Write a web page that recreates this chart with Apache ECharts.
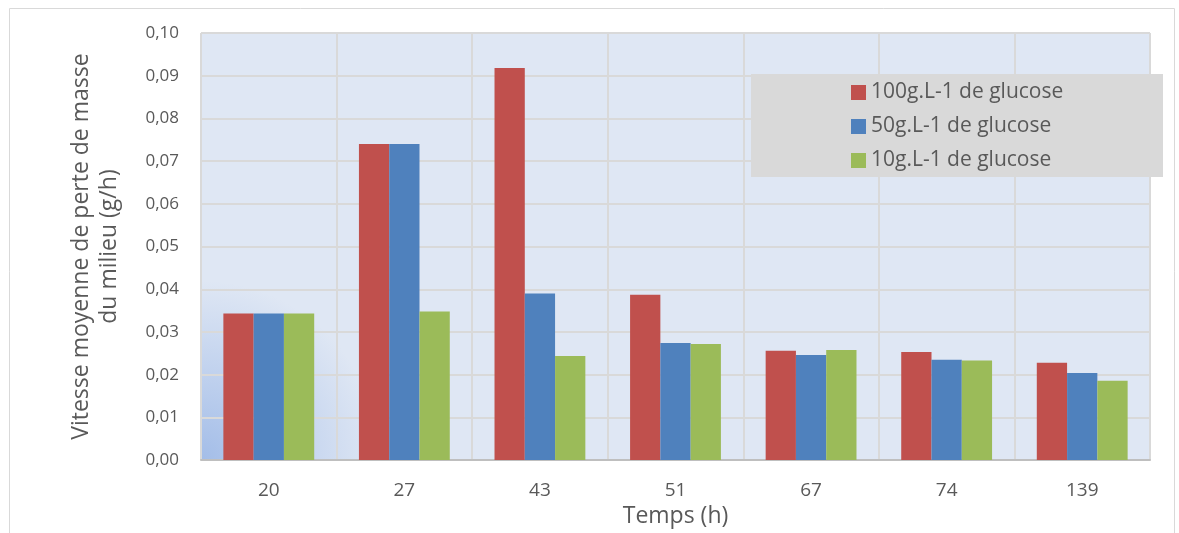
<!DOCTYPE html>
<html>
<head>
<meta charset="utf-8">
<script src="https://cdn.jsdelivr.net/npm/echarts@6/dist/echarts.min.js"></script>
<style>html,body{margin:0;padding:0;background:#fff;}#c{width:1179px;height:533px;}</style>
</head>
<body>
<div id="c"></div>
<script>
var categories = ['20', '27', '43', '51', '67', '74', '139'];
var series100 = [0.0343, 0.0740, 0.0918, 0.0387, 0.0256, 0.0253, 0.0228];
var series50 = [0.0343, 0.0740, 0.0390, 0.0274, 0.0246, 0.0235, 0.0204];
var series10 = [0.0343, 0.0348, 0.0244, 0.0272, 0.0258, 0.0233, 0.0186];
var seriesNames = ['100g.L-1 de glucose', '50g.L-1 de glucose', '10g.L-1 de glucose'];
var yTicks = [0, 0.1, 0.01];

var font = '"Open Sans", "Noto Sans", sans-serif';
var chart = echarts.init(document.getElementById('c'), null, {renderer: 'canvas'});
chart.setOption({
  animation: false,
  textStyle: {fontFamily: font},
  color: ['#c0504d', '#4f81bd', '#9bbb59'],
  graphic: [
    {type: 'rect', left: 7, top: 6, shape: {width: 1165, height: 540}, style: {fill: 'none', stroke: '#d9d9d9', lineWidth: 1}, z: -10},
    {type: 'rect', left: 751, top: 74, shape: {width: 412, height: 103}, style: {fill: '#d9d9d9'}, z: 5}
  ],
  legend: {
    orient: 'vertical',
    left: 846,
    top: 77,
    itemWidth: 15,
    itemHeight: 15,
    itemGap: 13,
    icon: 'rect',
    z: 10,
    textStyle: {fontSize: 21, color: '#595959', fontFamily: font},
    data: seriesNames
  },
  grid: {
    left: 201, right: 29, top: 33, bottom: 68,
    show: true,
    borderColor: '#cfcfcf',
    borderWidth: 1,
    backgroundColor: {
      type: 'radial', x: 0, y: 1, r: 0.42,
      colorStops: [{offset: 0, color: '#a3bde8'}, {offset: 1, color: '#dfe7f4'}]
    }
  },
  xAxis: {
    type: 'category',
    data: categories,
    name: 'Temps (h)',
    nameLocation: 'middle',
    nameGap: 43,
    nameTextStyle: {fontSize: 23, color: '#595959', fontFamily: font},
    axisLine: {lineStyle: {color: '#bfbfbf', width: 2}},
    axisTick: {show: false},
    axisLabel: {fontSize: 19, color: '#595959', margin: 21, fontFamily: font},
    splitLine: {show: true, interval: 0, lineStyle: {color: '#d9d9d9', width: 2}}
  },
  yAxis: {
    type: 'value',
    min: yTicks[0], max: yTicks[1], interval: yTicks[2],
    name: 'Vitesse moyenne de perte de masse\ndu milieu (g/h)',
    nameLocation: 'middle',
    nameRotate: 90,
    nameGap: 78,
    nameTextStyle: {fontSize: 23, color: '#595959', lineHeight: 28, fontFamily: font},
    axisLine: {show: false},
    axisTick: {show: false},
    axisLabel: {
      fontSize: 17, color: '#595959', margin: 22, fontFamily: font,
      formatter: function (v) { return v.toFixed(2).replace('.', ','); }
    },
    splitLine: {lineStyle: {color: '#d9d9d9', width: 2}}
  },
  series: [
    {name: seriesNames[0], type: 'bar', data: series100, barGap: '0%', barCategoryGap: '33%'},
    {name: seriesNames[1], type: 'bar', data: series50, barGap: '0%', barCategoryGap: '33%'},
    {name: seriesNames[2], type: 'bar', data: series10, barGap: '0%', barCategoryGap: '33%'}
  ]
});
</script>
</body>
</html>
